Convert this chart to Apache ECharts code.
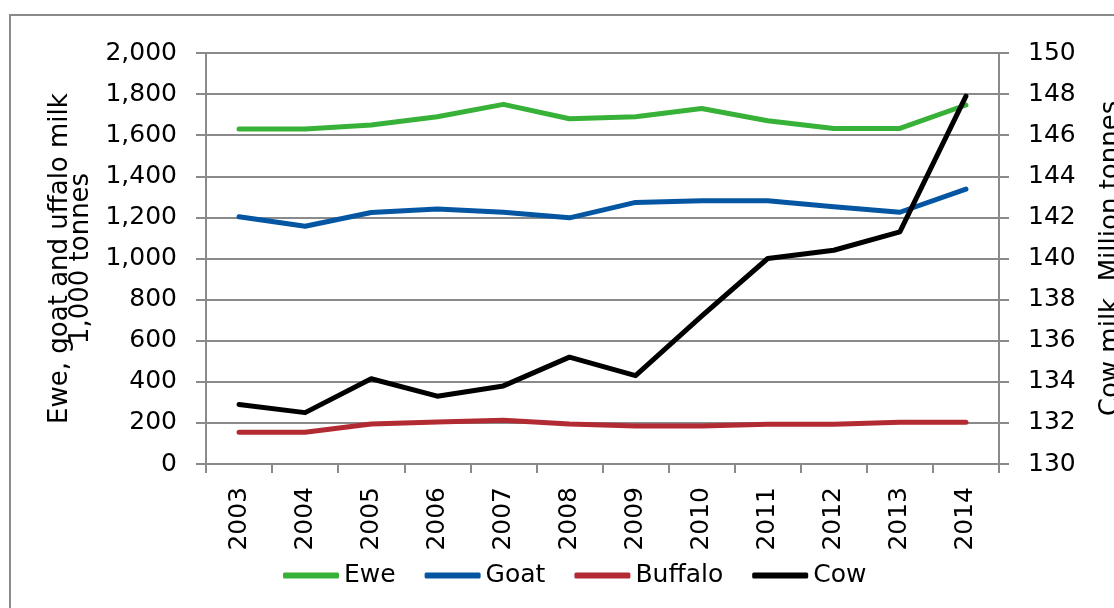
<!DOCTYPE html>
<html>
<head>
<meta charset="utf-8">
<title>Milk production</title>
<script src="https://cdn.jsdelivr.net/npm/echarts@6/dist/echarts.min.js"></script>
<style>
  html, body { margin: 0; padding: 0; background: #fff; }
  #chart { width: 1114px; height: 608px; }
</style>
</head>
<body>
<div id="chart"></div>
<script>
const years = ['2003', '2004', '2005', '2006', '2007', '2008', '2009', '2010', '2011', '2012', '2013', '2014']

// 1,000 tonnes (left axis)
const ewe = [1630, 1630, 1650, 1690, 1750, 1680, 1690, 1730, 1670, 1633, 1633, 1747]
const goat = [1203, 1157, 1224, 1241, 1225, 1198, 1273, 1281, 1281, 1252, 1225, 1338]
const buffalo = [154, 154, 195, 204, 213, 195, 185, 185, 193, 194, 203, 203]

// million tonnes (right axis)
const cow = [132.9, 132.5, 134.15, 133.3, 133.8, 135.2, 134.3, 137.2, 140.0, 140.4, 141.3, 147.9]

const leftTitle = 'Ewe, goat and uffalo milk\n1,000 tonnes'
const rightTitle = 'Cow milk, Million tonnes'

const FONT = 'DejaVu Sans'
const GRID_GREY = '#8a8a8a'

const chart = echarts.init(document.getElementById('chart'))

const lineSeries = (name, data, color, axis) => ({
  name,
  type: 'line',
  data,
  yAxisIndex: axis,
  symbol: 'none',
  animation: false,
  lineStyle: { color, width: 5, cap: 'round', join: 'round' },
  itemStyle: { color }
})

const option = {
  textStyle: { fontFamily: FONT },
  animation: false,
  grid: { left: 206, right: 115, top: 53, bottom: 144, outerBoundsMode: 'none' },
  graphic: [{
    type: 'rect',
    shape: { x: 10, y: 15, width: 1300, height: 800 },
    style: { fill: 'none', stroke: GRID_GREY, lineWidth: 2 },
    silent: true
  }],
  legend: {
    left: 283,
    top: 563,
    padding: 0,
    icon: 'roundRect',
    itemWidth: 56,
    itemHeight: 6,
    itemGap: 29,
    textStyle: { fontFamily: FONT, fontSize: 25, color: '#000' },
    data: ['Ewe', 'Goat', 'Buffalo', 'Cow']
  },
  xAxis: {
    type: 'category',
    data: years,
    boundaryGap: true,
    axisLine: { lineStyle: { color: GRID_GREY, width: 2 } },
    axisTick: { show: true, length: 9, lineStyle: { color: GRID_GREY, width: 2 } },
    axisLabel: { rotate: 90, margin: 23, fontSize: 25, color: '#000', fontFamily: FONT }
  },
  yAxis: [{
    type: 'value',
    min: 0,
    max: 2000,
    interval: 200,
    name: leftTitle,
    nameLocation: 'middle',
    nameRotate: 90,
    nameGap: 113,
    nameTextStyle: { fontSize: 26, color: '#000', fontFamily: FONT, lineHeight: 21 },
    axisLine: { show: true, lineStyle: { color: GRID_GREY, width: 2 } },
    axisTick: { show: true, length: 10, lineStyle: { color: GRID_GREY, width: 2 } },
    axisLabel: {
      margin: 29,
      fontSize: 25,
      color: '#000',
      fontFamily: FONT,
      formatter: v => v.toLocaleString('en-US')
    },
    splitLine: { show: true, lineStyle: { color: GRID_GREY, width: 2 } }
  }, {
    type: 'value',
    min: 130,
    max: 150,
    interval: 2,
    name: rightTitle,
    nameLocation: 'middle',
    nameRotate: 90,
    nameGap: 99,
    nameTextStyle: { fontSize: 26, color: '#000', fontFamily: FONT },
    axisLine: { show: true, lineStyle: { color: GRID_GREY, width: 2 } },
    axisTick: { show: true, length: 10, lineStyle: { color: GRID_GREY, width: 2 } },
    axisLabel: { margin: 29, fontSize: 25, color: '#000', fontFamily: FONT },
    splitLine: { show: false }
  }],
  series: [
    lineSeries('Ewe', ewe, '#37b137', 0),
    lineSeries('Goat', goat, '#0456a2', 0),
    lineSeries('Buffalo', buffalo, '#b22a32', 0),
    lineSeries('Cow', cow, '#000000', 1)
  ]
}

chart.setOption(option)
</script>
</body>
</html>
